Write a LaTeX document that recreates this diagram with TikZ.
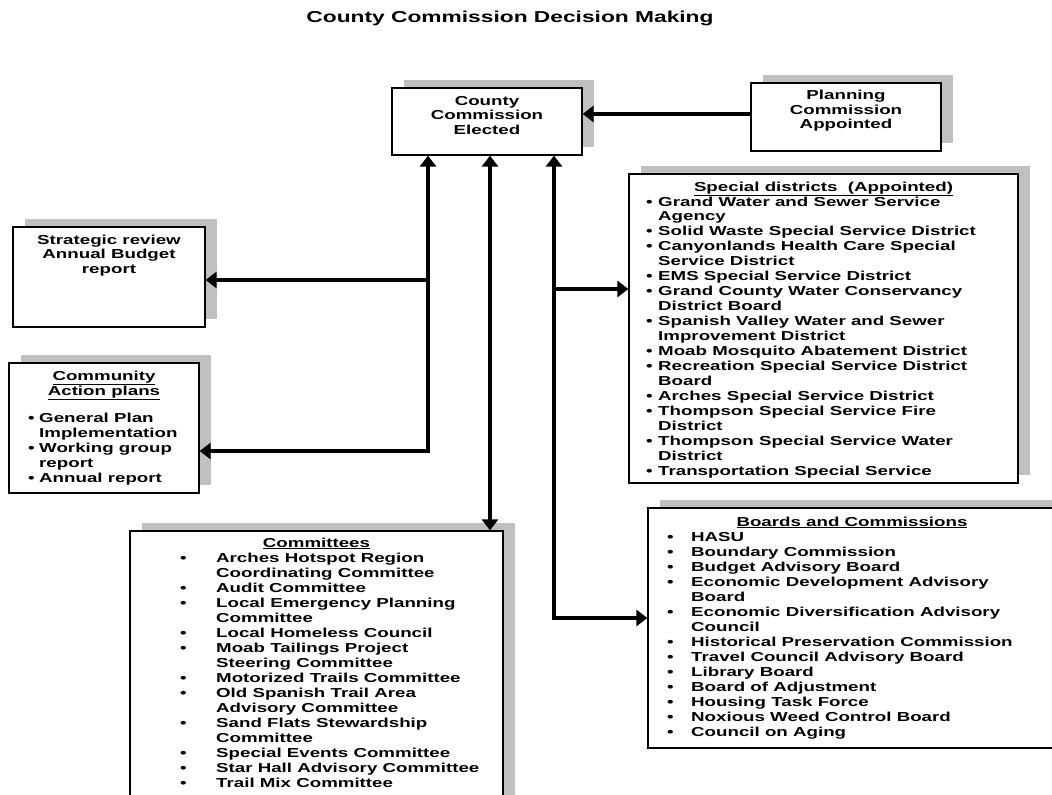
\documentclass[tikz,border=0pt]{standalone}
\usepackage{fontspec}
\setmainfont{Liberation Sans}[FakeStretch=1.44]
\usetikzlibrary{arrows.meta,shadows}
\definecolor{shadowgray}{RGB}{192,192,192}
\newcommand\bitem[3]{\par\noindent\hangindent=#2\hangafter=1\hbox to #2{\hskip #1\textbullet\hss}#3}
\newcommand\ctr[1]{\parbox[t]{300pt}{\centering #1}}
\newcommand\lst[1]{\parbox[t]{420pt}{\raggedright #1}}
\tikzset{
  >={Triangle[length=11pt,width=16pt]},
  box/.style={draw=black, line width=1.2pt, fill=white, inner sep=0pt,
    drop shadow={shadow xshift=12pt, shadow yshift=8pt, fill=shadowgray, opacity=1}},
  ctext/.style={inner sep=0pt, anchor=base, font=\bfseries\fontsize{13}{14.5}\selectfont},
  ltext/.style={inner sep=0pt, anchor=base west, font=\bfseries\fontsize{13}{14.95}\selectfont},
  conn/.style={line width=4.5pt, ->},
  dconn/.style={line width=4.5pt, <->},
}
\begin{document}
\begin{tikzpicture}[x=1pt,y=-1pt]
\useasboundingbox (0,0) rectangle (1052,795);
\clip (0,0) rectangle (1052,795);

% title
\node[inner sep=0pt, anchor=base, font=\bfseries\fontsize{15.8}{18}\selectfont] (title) at (510,22) {County Commission Decision Making};

% boxes
\node[box, minimum width=190pt, minimum height=67pt] (county) at (487,121.5) {};
\node[box, minimum width=190pt, minimum height=68pt] (planning) at (846,117) {};
\node[box, minimum width=192pt, minimum height=100pt] (strategic) at (109,277) {};
\node[box, minimum width=190pt, minimum height=130pt] (community) at (104,428) {};
\node[box, minimum width=389pt, minimum height=309pt] (special) at (823.5,328.5) {};
\node[box, minimum width=373pt, minimum height=300pt] (committees) at (316.5,681) {};
\node[box, minimum width=408pt, minimum height=240pt] (boards) at (852,628) {};

% simple texts
\node[ctext] (countyt) at (487,105) {\ctr{County\\Commission\\Elected}};
\node[ctext] (planningt) at (846,99.5) {\ctr{Planning\\Commission\\Appointed}};
\node[ctext] (strategict) at (109,244) {\ctr{Strategic review\\Annual Budget\\report}};
\node[ctext, font=\bfseries\fontsize{13}{14}\selectfont] (communityt) at (104,380) {\ctr{\underline{Community}\\\underline{Action plans}}};

% list titles
\node[ctext] (specialt) at (823.5,191) {\underline{Special districts\ \ (Appointed)}};
\node[ctext] (committeest) at (316.5,547) {\underline{Committees}};
\node[ctext] (boardst) at (852,526) {\underline{Boards and Commissions}};

% lists
\node[ltext, font=\bfseries\fontsize{13}{15}\selectfont] (communityl) at (9,422) {\lst{%
\bitem{19pt}{30pt}{General Plan\newline Implementation}
\bitem{19pt}{30pt}{Working group\newline report}
\bitem{19pt}{30pt}{Annual report}}};

\node[ltext] (speciall) at (629,206) {\lst{%
\bitem{17pt}{29pt}{Grand Water and Sewer Service\newline Agency}
\bitem{17pt}{29pt}{Solid Waste Special Service District}
\bitem{17pt}{29pt}{Canyonlands Health Care Special\newline Service District}
\bitem{17pt}{29pt}{EMS Special Service District}
\bitem{17pt}{29pt}{Grand County Water Conservancy\newline District Board}
\bitem{17pt}{29pt}{Spanish Valley Water and Sewer\newline Improvement District}
\bitem{17pt}{29pt}{Moab Mosquito Abatement District}
\bitem{17pt}{29pt}{Recreation Special Service District\newline Board}
\bitem{17pt}{29pt}{Arches Special Service District}
\bitem{17pt}{29pt}{Thompson Special Service Fire\newline District}
\bitem{17pt}{29pt}{Thompson Special Service Water\newline District}
\bitem{17pt}{29pt}{Transportation Special Service}}};

\node[ltext, font=\bfseries\fontsize{13}{15}\selectfont] (committeesl) at (130,562) {\lst{%
\bitem{50pt}{86pt}{Arches Hotspot Region\newline Coordinating Committee}
\bitem{50pt}{86pt}{Audit Committee}
\bitem{50pt}{86pt}{Local Emergency Planning\newline Committee}
\bitem{50pt}{86pt}{Local Homeless Council}
\bitem{50pt}{86pt}{Moab Tailings Project\newline Steering Committee}
\bitem{50pt}{86pt}{Motorized Trails Committee}
\bitem{50pt}{86pt}{Old Spanish Trail Area\newline Advisory Committee}
\bitem{50pt}{86pt}{Sand Flats Stewardship\newline Committee}
\bitem{50pt}{86pt}{Special Events Committee}
\bitem{50pt}{86pt}{Star Hall Advisory Committee}
\bitem{50pt}{86pt}{Trail Mix Committee}}};

\node[ltext, font=\bfseries\fontsize{13}{15.07}\selectfont] (boardsl) at (648,541) {\lst{%
\bitem{19pt}{43pt}{HASU}
\bitem{19pt}{43pt}{Boundary Commission}
\bitem{19pt}{43pt}{Budget Advisory Board}
\bitem{19pt}{43pt}{Economic Development Advisory\newline Board}
\bitem{19pt}{43pt}{Economic Diversification Advisory\newline Council}
\bitem{19pt}{43pt}{Historical Preservation Commission}
\bitem{19pt}{43pt}{Travel Council Advisory Board}
\bitem{19pt}{43pt}{Library Board}
\bitem{19pt}{43pt}{Board of Adjustment}
\bitem{19pt}{43pt}{Housing Task Force}
\bitem{19pt}{43pt}{Noxious Weed Control Board}
\bitem{19pt}{43pt}{Council on Aging}}};

% junction coordinates
\coordinate (jl) at (428,451);
\coordinate (jl1) at (428,280);
\coordinate (jm) at (490,300);
\coordinate (jr) at (554,618);
\coordinate (jr1) at (554,289);
\coordinate (jp) at (660,114);

% connectors
\draw[conn] (planning.west |- jp) -- (county.east |- jp);
\draw[dconn] (jl |- county.south) -- (jl) -- (jl -| community.east);
\draw[conn] (jl1) -- (jl1 -| strategic.east);
\draw[dconn] (jm |- county.south) -- (jm |- committees.north);
\draw[dconn] (jr |- county.south) -- (jr) -- (jr -| boards.west);
\draw[conn] (jr1) -- (jr1 -| special.west);
\end{tikzpicture}
\end{document}
